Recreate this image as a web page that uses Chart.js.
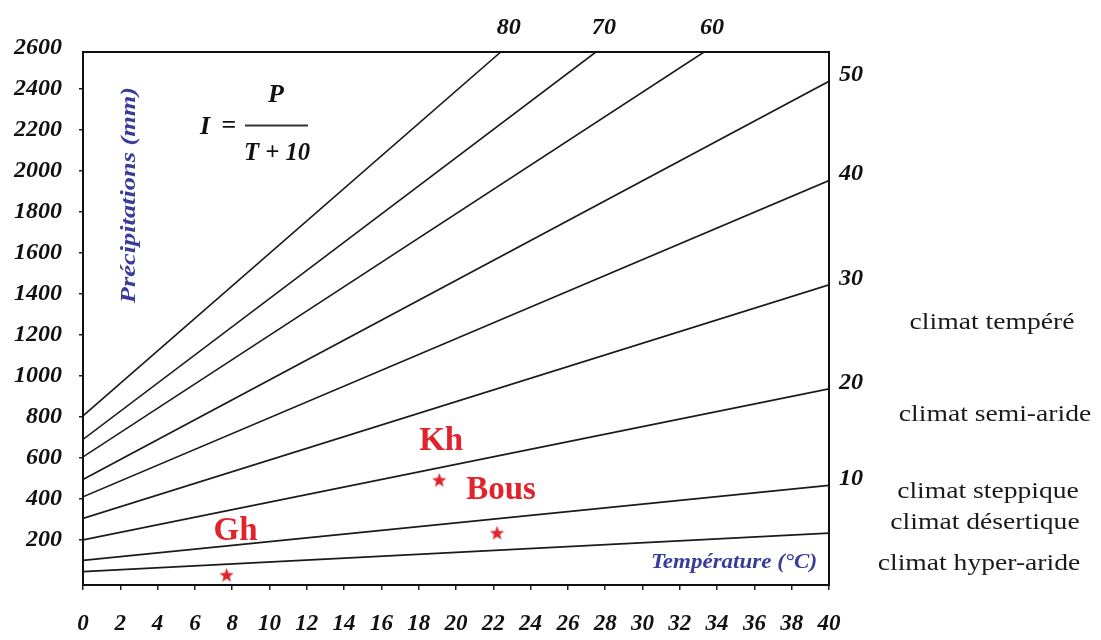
<!DOCTYPE html>
<html>
<head>
<meta charset="utf-8">
<script src="https://cdn.jsdelivr.net/npm/chart.js@4.4.1/dist/chart.umd.min.js"></script>
<style>
  html, body { margin: 0; padding: 0; background: #fff; }
  canvas { display: block; }
</style>
</head>
<body>
<canvas id="chart" width="1101" height="640"></canvas>
<script>
// De Martonne aridity index lines I = P / (T + 10)
const aridityIndex = [80, 70, 60, 50, 40, 30, 20, 10, 5];
const lineStartP   = [805, 690, 605, 495, 410, 305, 200, 100, 45];
const lineEndT     = [22.4, 27.5, 33.3, 40, 40, 40, 40, 40, 40];
const lineEndP     = [2580, 2580, 2580, 2437, 1953, 1444, 937, 466, 233];
const lineLabels   = ['80', '70', '60', '50', '40', '30', '20', '10', ''];

// Stations
const stationNames = ['Gh', 'Kh', 'Bous'];
const stationT     = [7.7, 19.1, 22.2];
const stationP     = [29, 492, 234];

// Axes
const xTicks = [0, 2, 4, 6, 8, 10, 12, 14, 16, 18, 20, 22, 24, 26, 28, 30, 32, 34, 36, 38, 40];
const yTicks = [200, 400, 600, 800, 1000, 1200, 1400, 1600, 1800, 2000, 2200, 2400, 2600];
const xRange = [0, 40];
const yRange = [-20, 2580];

// Climate classes
const climateZones = ['climat tempéré', 'climat semi-aride', 'climat steppique', 'climat désertique', 'climat hyper-aride'];

const SERIF = "'Liberation Serif', 'DejaVu Serif', serif";
const RED = '#e2232c';
const BLUE = '#3a3c9c';

// Filled five-point star used as the station marker
function makeStar(size, color) {
  const c = document.createElement('canvas');
  c.width = size; c.height = size;
  const g = c.getContext('2d');
  const cx = size / 2, cy = size / 2 + 0.6, R = size / 2, r = R * 0.42;
  g.beginPath();
  for (let i = 0; i < 10; i++) {
    const a = -Math.PI / 2 + i * Math.PI / 5;
    const rad = i % 2 === 0 ? R : r;
    g.lineTo(cx + rad * Math.cos(a), cy + rad * Math.sin(a));
  }
  g.closePath();
  g.fillStyle = color;
  g.fill();
  return c;
}
const starImg = makeStar(15, RED);

const lineDatasets = aridityIndex.map((idx, i) => ({
  label: 'I = ' + idx,
  data: [{ x: 0, y: lineStartP[i] }, { x: lineEndT[i], y: lineEndP[i] }],
  borderColor: '#1a1a1a',
  borderWidth: 1.6,
  pointRadius: 0,
  fill: false,
  tension: 0
}));

const stationDataset = {
  label: 'stations',
  data: stationNames.map((n, i) => ({ x: stationT[i], y: stationP[i] })),
  showLine: false,
  pointStyle: starImg,
  pointRadius: 7,
  borderColor: RED,
  backgroundColor: RED
};

function drawText(ctx, s, x, y, font, color, opts = {}) {
  ctx.save();
  ctx.translate(x, y);
  if (opts.rot) ctx.rotate(opts.rot);
  ctx.scale(opts.sx || 1, 1);
  ctx.font = font;
  ctx.fillStyle = color;
  ctx.textAlign = opts.align || 'center';
  ctx.textBaseline = opts.base || 'middle';
  ctx.fillText(s, 0, 0);
  ctx.restore();
}

const decorations = {
  id: 'decorations',
  afterDatasetsDraw(chart) {
    const { ctx, chartArea: a, scales: { x, y } } = chart;

    // frame
    ctx.save();
    ctx.strokeStyle = '#111';
    ctx.lineWidth = 2;
    ctx.strokeRect(a.left, a.top, a.right - a.left, a.bottom - a.top);
    ctx.restore();

    // index labels at the end of each line
    const idxFont = `italic bold 23px ${SERIF}`;
    lineLabels.forEach((lab, i) => {
      if (!lab) return;
      if (lineEndP[i] >= yRange[1]) {
        drawText(ctx, lab, x.getPixelForValue(lineEndT[i]) + 8, a.top - 24, idxFont, '#111', { sx: 1.05 });
      } else {
        drawText(ctx, lab, a.right + 22, y.getPixelForValue(lineEndP[i]) - 6, idxFont, '#111', { sx: 1.05 });
      }
    });

    // station names above their markers
    const nameOffsets = [[9, -43], [2, -39], [4, -42]];
    stationNames.forEach((n, i) => {
      const px = x.getPixelForValue(stationT[i]);
      const py = y.getPixelForValue(stationP[i]);
      drawText(ctx, n, px + nameOffsets[i][0], py + nameOffsets[i][1], `bold 33px ${SERIF}`, RED);
    });

    // formula
    const fFont = `italic bold 26px ${SERIF}`;
    drawText(ctx, 'I', 205, 127, fFont, '#111');
    drawText(ctx, '=', 229, 126, `bold 26px ${SERIF}`, '#111');
    ctx.save();
    ctx.strokeStyle = '#333';
    ctx.lineWidth = 2;
    ctx.beginPath();
    ctx.moveTo(245, 125.5);
    ctx.lineTo(308, 125.5);
    ctx.stroke();
    ctx.restore();
    drawText(ctx, 'P', 276, 95, fFont, '#111');
    drawText(ctx, 'T + 10', 277, 153, fFont, '#111', { sx: 0.95 });

    // axis titles drawn inside the frame
    drawText(ctx, 'Précipitations (mm)', 129, 195, `italic bold 22px ${SERIF}`, BLUE, { rot: -Math.PI / 2, sx: 1.2 });
    drawText(ctx, 'Température (°C)', 734, 563, `italic bold 20px ${SERIF}`, BLUE, { sx: 1.15 });

    // climate classes on the right
    const zoneX = [992, 995, 988, 985, 979];
    const zoneY = [323, 415, 492, 523, 564];
    climateZones.forEach((z, i) => {
      drawText(ctx, z, zoneX[i], zoneY[i], `24px ${SERIF}`, '#1a1a1a', { sx: 1.15 });
    });
  }
};

new Chart(document.getElementById('chart'), {
  type: 'scatter',
  data: { datasets: [...lineDatasets, stationDataset] },
  options: {
    responsive: false,
    animation: false,
    events: [],
    layout: { padding: { left: 0, top: 52, right: 272, bottom: 0 } },
    plugins: { legend: { display: false }, tooltip: { enabled: false } },
    datasets: { scatter: { showLine: true } },
    scales: {
      x: {
        type: 'linear',
        min: xRange[0],
        max: xRange[1],
        afterBuildTicks: s => { s.ticks = xTicks.map(v => ({ value: v })); },
        afterFit: s => { s.height = 55; },
        grid: { drawOnChartArea: false, tickLength: 5, color: '#222', lineWidth: 1.5 },
        border: { display: true, color: '#111', width: 2 },
        ticks: {
          autoSkip: false,
          maxRotation: 0,
          padding: 20,
          color: '#111',
          font: { family: SERIF, size: 23, style: 'italic', weight: 'bold' },
          callback: v => String(v)
        }
      },
      y: {
        type: 'linear',
        min: yRange[0],
        max: yRange[1],
        afterBuildTicks: s => { s.ticks = yTicks.map(v => ({ value: v })); },
        afterFit: s => { s.width = 83; },
        grid: {
          drawOnChartArea: false,
          tickLength: 4,
          lineWidth: 1.5,
          color: ctx => (ctx.tick && ctx.tick.value > yRange[1]) ? 'rgba(0,0,0,0)' : '#222'
        },
        border: { display: true, color: '#111', width: 2 },
        ticks: {
          autoSkip: false,
          padding: 17,
          color: '#111',
          font: { family: SERIF, size: 24, style: 'italic', weight: 'bold' },
          callback: v => String(v)
        }
      }
    }
  },
  plugins: [decorations]
});
</script>
</body>
</html>
